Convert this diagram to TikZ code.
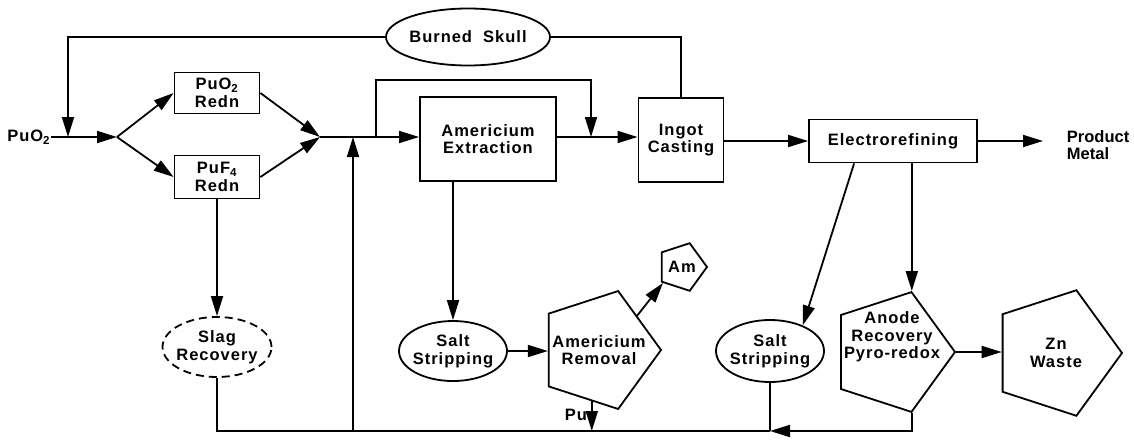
\documentclass[tikz,border=0pt]{standalone}
\usepackage{fontspec}
\setmainfont{Liberation Sans}[LetterSpace=6]
\usetikzlibrary{shapes.geometric,arrows.meta}
\tikzset{
  box/.style={draw, align=center, inner sep=0pt},
  oval/.style={draw, ellipse, align=center, inner xsep=-10pt, inner ysep=-6pt},
  pent/.style={draw, regular polygon, regular polygon sides=5, shape border rotate=-90, inner sep=0pt},
  arr/.style={-{Triangle[length=20pt,width=12pt]}},
  lbl/.style={align=left, inner sep=0pt},
}
\begin{document}
\begin{tikzpicture}[x=1pt,y=-1pt,line width=1.8pt,line join=miter,
  font=\fontsize{16.5}{17.6}\selectfont\bfseries]
\useasboundingbox (0,0) rectangle (1134,439);
% nodes
\node[lbl, anchor=east] (pin) at (51,137) {PuO\textsubscript{2}};
\coordinate (split) at (117,137);
\coordinate (merge) at (320,137);
\coordinate (fb) at (68,137);
\node[box, minimum width=85, minimum height=41] (puo2) at (217,93) {PuO\textsubscript{2}\\Redn};
\node[box, minimum width=85, minimum height=43] (puf4) at (217,177) {PuF\textsubscript{4}\\Redn};
\node[oval, minimum width=164, minimum height=57] (skull) at (468,37) {Burned\ \ Skull};
\node[box, minimum width=136, minimum height=84] (amx) at (488,139) {Americium\\Extraction};
\node[box, minimum width=85, minimum height=84] (ingot) at (681,140) {Ingot\\Casting};
\node[box, minimum width=168, minimum height=43] (elec) at (893,141) {Electrorefining};
\coordinate (prod) at (1043,141);
\node[lbl, anchor=west, font=\fontsize{16.5}{17.6}\selectfont\bfseries\addfontfeature{LetterSpace=0}] (metal) at (1066,145) {Product\\Metal};
\node[oval, dash pattern=on 8pt off 5pt, minimum width=109, minimum height=60] (slag) at (217,347) {Slag\\Recovery};
\node[oval, minimum width=108, minimum height=60] (ss1) at (453,351) {Salt\\Stripping};
\node[pent, minimum size=124, label={[align=center]center:Americium\\Removal}] (amr) at (599,350) {};
\node[pent, minimum size=50, label={center:Am}] (am) at (682,267) {};
\node[oval, minimum width=108, minimum height=62] (ss2) at (770,351) {Salt\\Stripping};
\node[pent, minimum size=126, label={[align=center, yshift=15pt]center:Anode\\Recovery\\Pyro{-}redox}] (anode) at (892,352) {};
\node[pent, minimum size=132, label={[align=center]center:Zn\\Waste}] (zn) at (1056,353) {};
\coordinate (bl) at (353,431);
\coordinate (byA) at (376,137);
\coordinate (byB) at (591,137);
% connectors
\draw[arr] (pin.east |- split) -- (split);
\draw[arr] (skull.west) -| (fb);
\draw[arr] (split) -- (puo2.west);
\draw[arr] (split) -- (puf4.west);
\draw[arr] (puo2.east) -- (merge);
\draw[arr] (puf4.east) -- (merge);
\draw[arr] (merge) -- (merge -| amx.west);
\draw[arr] (byA) -- ++(0,-57) -| (byB);
\draw[arr] (amx.east |- merge) -- (merge -| ingot.west);
\draw (ingot.north) |- (skull.east);
\draw[arr] (ingot.east |- elec) -- (elec.west);
\draw[arr] (elec.east) -- (prod);
\draw[arr] ([xshift=46pt]elec.south west) -- (ss2.38);
\draw[arr] (anode.corner 2 |- elec.south) -- (anode.corner 2);
\draw[arr] (anode.corner 1) -- (anode.corner 1 -| zn.west);
\draw[arr] (puf4.south) -- (slag.north);
\draw[arr] (ss1.north |- amx.south) -- (ss1.north);
\draw[arr] (ss1.east) -- (ss1.east -| amr.west);
\draw[arr] (amr.42) -- (am.220);
\draw (slag.south) |- (ss2.south |- bl);
\draw (ss2.south) -- (ss2.south |- bl);
\draw[arr] (anode.corner 5) -- (anode.corner 5 |- bl) -- (ss2.south |- bl);
\draw[arr] (bl) -- (bl |- merge);
\draw[arr] (amr.262) -- node[left, pos=0.45, inner sep=4pt] {Pu} (amr.262 |- bl);
\end{tikzpicture}
\end{document}
